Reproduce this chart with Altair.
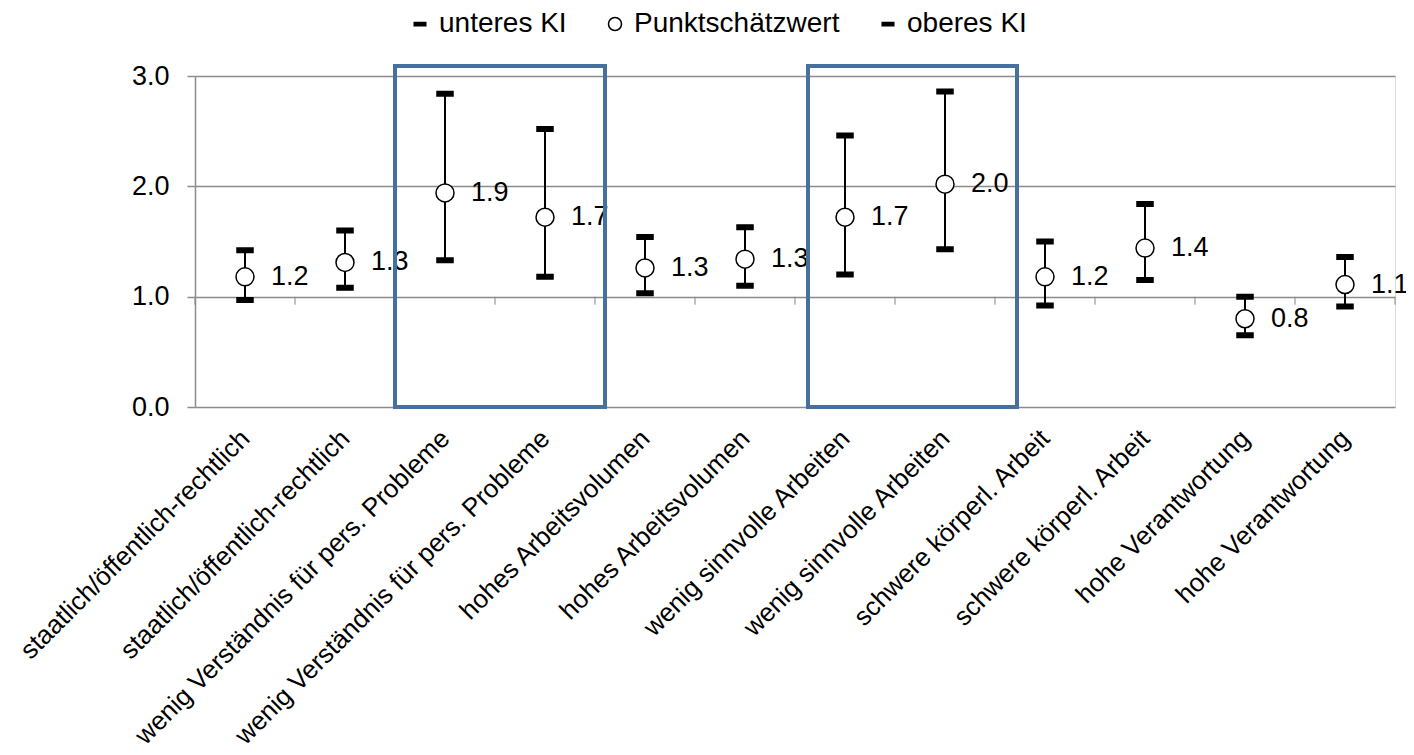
import json
import altair as alt
import pandas as pd

# ---------------- data ----------------
categories = [
    "staatlich/öffentlich-rechtlich",
    "staatlich/öffentlich-rechtlich",
    "wenig Verständnis für pers. Probleme",
    "wenig Verständnis für pers. Probleme",
    "hohes Arbeitsvolumen",
    "hohes Arbeitsvolumen",
    "wenig sinnvolle Arbeiten",
    "wenig sinnvolle Arbeiten",
    "schwere körperl. Arbeit",
    "schwere körperl. Arbeit",
    "hohe Verantwortung",
    "hohe Verantwortung",
]
point_est = [1.18, 1.31, 1.94, 1.72, 1.26, 1.34, 1.72, 2.02, 1.18, 1.44, 0.80, 1.11]
lower_ci = [0.97, 1.08, 1.33, 1.18, 1.03, 1.10, 1.20, 1.43, 0.92, 1.15, 0.65, 0.91]
upper_ci = [1.42, 1.60, 2.84, 2.52, 1.54, 1.63, 2.46, 2.86, 1.50, 1.84, 1.00, 1.36]
series_names = ["unteres KI", "Punktschätzwert", "oberes KI"]
y_ticks = [0, 1, 2, 3]

# highlight boxes (in category units / value units)
box_from = [2.0, 6.13]
box_to = [4.1, 8.22]
box_low = [0.0, 0.0]
box_high = [3.09, 3.09]

FONT = "Liberation Sans"
GRID = "#8c8c8c"
BOX = "#46709e"
DASH = "M -0.89 -0.25 L 0.89 -0.25 L 0.89 0.25 L -0.89 0.25 Z"

n = len(categories)
pos = [i + 0.5 for i in range(n)]
wide = pd.DataFrame({"pos": pos, "lo": lower_ci, "mid": point_est, "hi": upper_ci})
long = pd.DataFrame({
    "pos": pos * 3,
    "series": [s for s in series_names for _ in range(n)],
    "value": lower_ci + point_est + upper_ci,
})
ticks_df = pd.DataFrame({"b": list(range(n + 1)), "one": [1.0] * (n + 1)})
boxes = pd.DataFrame({"x0": box_from, "x1": box_to, "y0": box_low, "y1": box_high})

label_expr = json.dumps(categories, ensure_ascii=False) + "[floor(datum.value)]"

x_scale = alt.Scale(domain=[0, n], nice=False)
x_axis = alt.Axis(
    values=pos, labelExpr=label_expr, labelAngle=-45, labelAlign="right",
    labelBaseline="middle", labelPadding=27, ticks=False, tickSize=0,
    domain=False, grid=False, labelFlush=False, labelOverlap=False,
    labelLimit=700, labelFontSize=26, labelFont=FONT, labelColor="black",
    labelBound=False,
)
y_scale = alt.Scale(domain=[0, 3], nice=False, zero=True)
y_axis = alt.Axis(
    values=y_ticks, format=".1f", grid=True, gridColor=GRID, gridWidth=1.5,
    domain=True, domainColor=GRID, domainWidth=1.5, ticks=True, tickSize=8,
    tickColor=GRID, tickWidth=1.5, labelPadding=18, labelFontSize=27,
    labelFont=FONT, labelColor="black",
)

base_x = alt.X("pos:Q", scale=x_scale, axis=x_axis, title=None)

whiskers = alt.Chart(wide).mark_rule(color="black", strokeWidth=2).encode(
    x=base_x,
    y=alt.Y("lo:Q", scale=y_scale, axis=y_axis, title=None),
    y2="hi:Q",
)

x_ticks = alt.Chart(ticks_df).mark_tick(
    orient="vertical", size=8, thickness=1.5, color=GRID, yOffset=4
).encode(
    x=alt.X("b:Q", scale=x_scale, axis=x_axis, title=None),
    y=alt.Y("one:Q", scale=y_scale, axis=y_axis, title=None),
)

legend = alt.Legend(
    title=None, orient="none", legendX=211, legendY=-66, direction="horizontal",
    labelFontSize=28, labelFont=FONT, labelColor="black", symbolSize=169,
    symbolStrokeColor="black", symbolStrokeWidth=1.5, labelOffset=5,
    columnPadding=34, padding=0, labelLimit=400,
)

points = alt.Chart(long).mark_point(
    filled=True, size=324, strokeWidth=1.5, opacity=1
).encode(
    x=base_x,
    y=alt.Y("value:Q", scale=y_scale, axis=y_axis, title=None),
    shape=alt.Shape("series:N", scale=alt.Scale(domain=series_names, range=[DASH, "circle", DASH]), legend=legend),
    fill=alt.Fill("series:N", scale=alt.Scale(domain=series_names, range=["black", "white", "black"]), legend=legend),
    stroke=alt.Stroke("series:N", scale=alt.Scale(domain=series_names, range=["black", "black", "black"]), legend=legend),
)

labels = alt.Chart(wide).mark_text(
    align="left", baseline="middle", dx=26, fontSize=27, font=FONT, color="black"
).encode(
    x=base_x,
    y=alt.Y("mid:Q", scale=y_scale, axis=y_axis, title=None),
    text=alt.Text("mid:Q", format=".1f"),
)

rects = alt.Chart(boxes).mark_rect(
    fillOpacity=0, stroke=BOX, strokeWidth=4
).encode(
    x=alt.X("x0:Q", scale=x_scale, axis=x_axis, title=None),
    x2="x1:Q",
    y=alt.Y("y0:Q", scale=y_scale, axis=y_axis, title=None),
    y2="y1:Q",
)

chart = alt.layer(x_ticks, whiskers, points, labels, rects).properties(
    width=1200,
    height=331,
    autosize=alt.AutoSizeParams(type="none"),
    padding={"left": 187, "top": 68, "right": 11, "bottom": 340},
).configure_view(stroke=None).configure(background="white")

chart.save("out.html", embed_options={"renderer": "svg", "actions": False})
